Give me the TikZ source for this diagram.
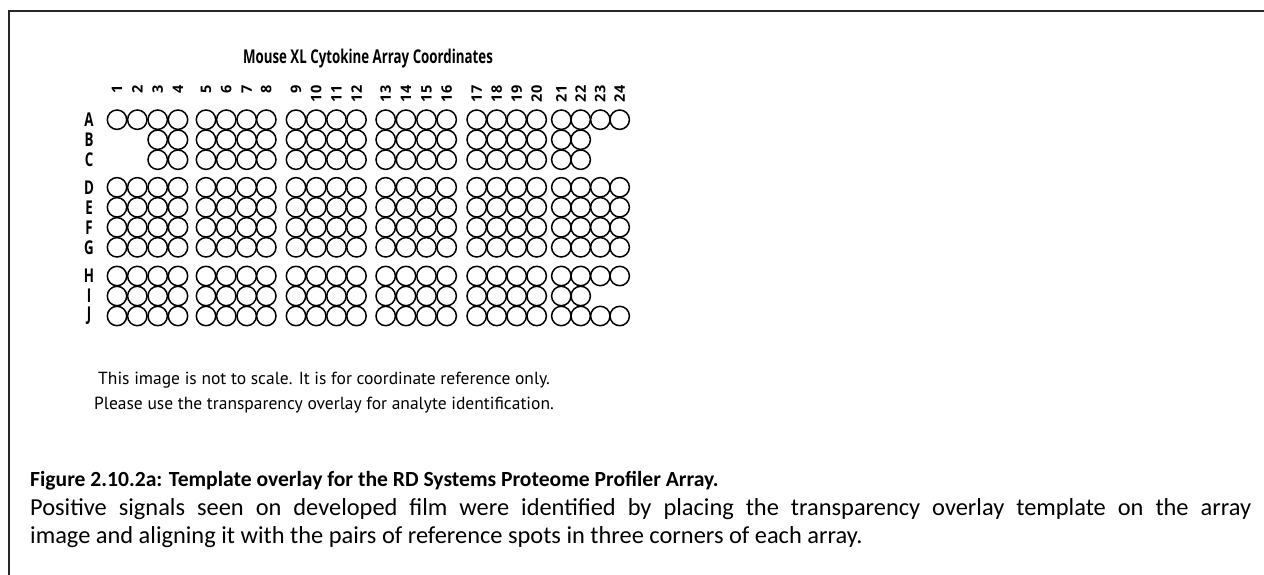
\documentclass[tikz,border=0pt]{standalone}
\usepackage{fontspec}
\setmainfont{Carlito}
\newfontfamily\condb[FakeStretch=0.7]{Open Sans}
\newfontfamily\opensans{Open Sans}
\newfontfamily\myriad{PT Sans}
\begin{document}
\begin{tikzpicture}[x=1pt,y=-1pt]
\useasboundingbox (0,0) rectangle (1264,575);
\tikzset{
  spot/.style={circle,draw=black,line width=1.5pt,minimum size=19.4pt,inner sep=0pt},
  rowlab/.style={font=\condb\bfseries\fontsize{19}{19}\selectfont,inner sep=0pt},
  collab/.style={font=\opensans\bfseries\fontsize{14.5}{14.5}\selectfont,inner sep=0pt,rotate=90,anchor=east},
  frameline/.style={line width=2pt,draw=black!85},
  notetext/.style={font=\myriad\fontsize{17.5}{17.5}\selectfont,anchor=base,inner sep=0pt},
  captext/.style={font=\fontsize{24.4}{24.4}\selectfont,anchor=base west,inner sep=0pt},
}
\draw[frameline] (9,575) -- (9,11.5) -- (1264,11.5);
\node[font=\condb\bfseries\fontsize{19}{19}\selectfont,anchor=base,inner sep=0pt] (title) at (368,64) {Mouse XL Cytokine Array Coordinates};
\foreach \x [count=\c] in {117,137.3,157.7,178,206,226.3,246.7,266.3,296,316.3,336.5,356.5,385.7,406,426.5,446.7,476.7,496.7,516.7,536.7,561.3,580.7,600.3,619.7}
  \node[collab] (col\c) at (\x,85.5) {\c};
\foreach \r/\y/\first/\last in {A/119.7/1/24,B/139.7/3/22,C/159.7/3/22,D/187.3/1/24,E/207.3/1/24,F/227.3/1/24,G/247.3/1/24,H/276/1/24,I/296/1/22,J/316/1/24}{
  \node[rowlab] (lab\r) at (89,\y) {\r};
  \foreach \x [count=\c] in {117,137.3,157.7,178,206,226.3,246.7,266.3,296,316.3,336.5,356.5,385.7,406,426.5,446.7,476.7,496.7,516.7,536.7,561.3,580.7,600.3,619.7}{
    \ifnum\c<\first\relax\else\ifnum\c>\last\relax\else
      \node[spot] (\r\c) at (\x,\y) {};
    \fi\fi
  }
}
\node[notetext] (note1) at (324,384) {This image is not to scale. It is for coordinate reference only.};
\node[notetext] (note2) at (324,409) {Please use the transparency overlay for analyte identification.};
\node[captext,font=\fontsize{21.6}{21.6}\selectfont\bfseries] (cap) at (30,486) {Figure 2.10.2a: Template overlay for the RD Systems Proteome Profiler Array.};
\node[captext] (body1) at (30,515) {\makebox[1221pt][s]{Positive signals seen on developed film were identified by placing the transparency overlay template on the array}};
\node[captext] (body2) at (30,543) {image and aligning it with the pairs of reference spots in three corners of each array.};
\end{tikzpicture}
\end{document}
